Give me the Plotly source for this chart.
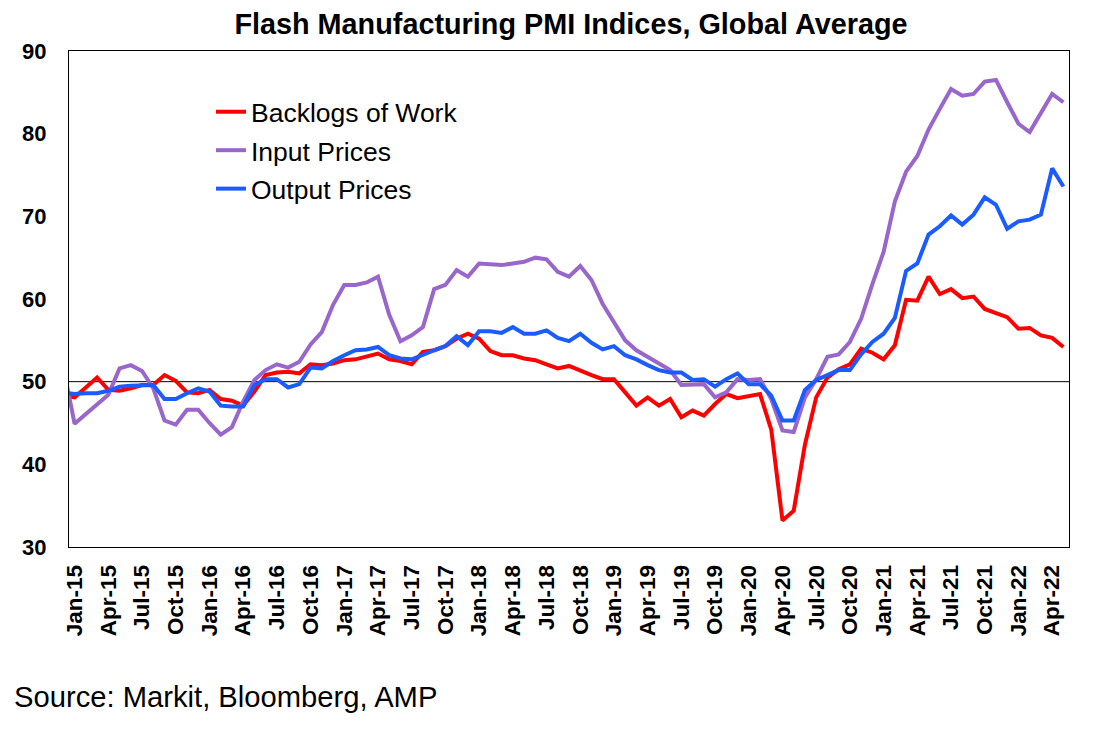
import pandas as pd
import plotly.graph_objects as go

# monthly categories, Dec-14 is only there so the line enters from the left edge
months = [d.strftime("%b-%y") for d in pd.date_range("2014-12-01", "2022-05-01", freq="MS")]

backlogs = [48.3,
    48.1, 49.3, 50.5, 49.0, 48.9, 49.2, 49.6, 49.6, 50.8, 50.1, 48.7, 48.6,
    49.0, 47.9, 47.7, 47.1, 48.8, 50.8, 51.1, 51.2, 51.0, 52.1, 52.0, 52.2,
    52.6, 52.7, 53.1, 53.4, 52.7, 52.5, 52.1, 53.6, 53.8, 54.3, 55.2, 55.8,
    55.2, 53.7, 53.2, 53.2, 52.8, 52.6, 52.1, 51.6, 51.9, 51.3, 50.8, 50.3,
    50.3, 48.7, 47.1, 48.1, 47.1, 47.9, 45.7, 46.5, 45.9, 47.3, 48.5, 48.0,
    48.2, 48.5, 44.2, 33.2, 34.4, 42.4, 48.1, 50.5, 51.5, 52.1, 54.0, 53.5,
    52.7, 54.4, 59.9, 59.8, 62.7, 60.6, 61.2, 60.1, 60.3, 58.8, 58.3, 57.8,
    56.4, 56.5, 55.6, 55.3, 54.2]

input_prices = [51.7,
    44.9, 46.1, 47.3, 48.4, 51.6, 52.0, 51.3, 49.2, 45.3, 44.8, 46.6, 46.6,
    45.0, 43.6, 44.5, 47.6, 50.2, 51.4, 52.1, 51.7, 52.4, 54.5, 56.0, 59.3,
    61.7, 61.7, 62.0, 62.7, 58.1, 54.9, 55.6, 56.6, 61.2, 61.7, 63.5, 62.7,
    64.3, 64.2, 64.1, 64.3, 64.5, 65.0, 64.8, 63.3, 62.7, 64.0, 62.3, 59.4,
    57.2, 55.0, 53.8, 53.0, 52.2, 51.4, 49.6, 49.6, 49.7, 48.1, 48.7, 50.3,
    50.2, 50.3, 47.9, 44.1, 43.9, 48.1, 50.3, 53.0, 53.3, 54.8, 57.6, 61.8,
    65.7, 71.8, 75.4, 77.3, 80.5, 83.0, 85.4, 84.6, 84.8, 86.3, 86.5, 83.8,
    81.2, 80.2, 82.5, 84.8, 83.8]

output_prices = [48.7,
    48.5, 48.6, 48.6, 48.9, 49.4, 49.5, 49.5, 49.6, 47.9, 47.9, 48.6, 49.2,
    48.8, 47.1, 47.0, 47.0, 49.6, 50.3, 50.3, 49.3, 49.7, 51.7, 51.6, 52.5,
    53.2, 53.8, 53.9, 54.2, 53.2, 52.8, 52.7, 53.3, 53.8, 54.3, 55.5, 54.4,
    56.1, 56.1, 55.9, 56.6, 55.8, 55.8, 56.2, 55.3, 54.9, 55.8, 54.7, 53.9,
    54.3, 53.2, 52.7, 52.0, 51.4, 51.1, 51.1, 50.2, 50.3, 49.4, 50.3, 51.0,
    49.7, 49.7, 48.3, 45.3, 45.3, 49.0, 50.2, 50.8, 51.4, 51.4, 53.3, 54.8,
    55.8, 57.7, 63.4, 64.3, 67.8, 68.8, 70.1, 69.0, 70.2, 72.3, 71.4, 68.5,
    69.4, 69.6, 70.2, 75.8, 73.6]

tick_labels = months[1::3]

series = [("Backlogs of Work", backlogs, "#ff0000"),
          ("Input Prices", input_prices, "#9966cc"),
          ("Output Prices", output_prices, "#1a5cff")]

fig = go.Figure()
for i, (name, vals, col) in enumerate(series):
    fig.add_trace(go.Scatter(x=months, y=vals, mode="lines", name=name,
                             legendgroup=str(i), line=dict(color=col, width=4)))

fig.add_shape(type="line", xref="paper", yref="y", x0=0, x1=1, y0=50, y1=50,
              line=dict(color="black", width=1), layer="below")

fig.add_annotation(text="Source: Markit, Bloomberg, AMP", xref="paper", yref="paper",
                   x=-0.057, y=-0.302, xanchor="left", yanchor="middle", showarrow=False,
                   font=dict(size=29.2, color="black"))

# page body has an 8px margin, so the figure is sized 8px smaller each way
fig.update_layout(
    width=1090, height=722, plot_bgcolor="white", paper_bgcolor="white",
    font=dict(family="Liberation Sans, Arial, sans-serif", color="black"),
    title=dict(text="<b>Flash Manufacturing PMI Indices, Global Average</b>", x=0.5165, xanchor="center",
               y=0.978, yanchor="middle", font=dict(size=28.8)),
    margin=dict(l=61, r=29, t=43, b=183),
    showlegend=True,
    legend=dict(x=0.142, y=0.9254, xanchor="left", yanchor="top", bgcolor="rgba(0,0,0,0)",
                font=dict(size=26.5), tracegroupgap=1, itemwidth=30),
    xaxis=dict(type="category", range=[0.5, len(months) - 0.5], tickmode="array",
               tickvals=tick_labels, ticktext=[f"<b>{t}</b>" for t in tick_labels], tickangle=-90,
               tickfont=dict(size=22.5), showline=True, linecolor="black", linewidth=1, mirror=True,
               showgrid=False, ticks="", ticklabelstandoff=8),
    yaxis=dict(range=[30, 90], dtick=10, tickfont=dict(size=22), showline=True, linecolor="black",
               linewidth=1, mirror=True, showgrid=False, zeroline=False, ticks="",
               tickprefix="<b>", ticksuffix="</b>", ticklabelstandoff=17),
)

fig.write_html("out.html")
